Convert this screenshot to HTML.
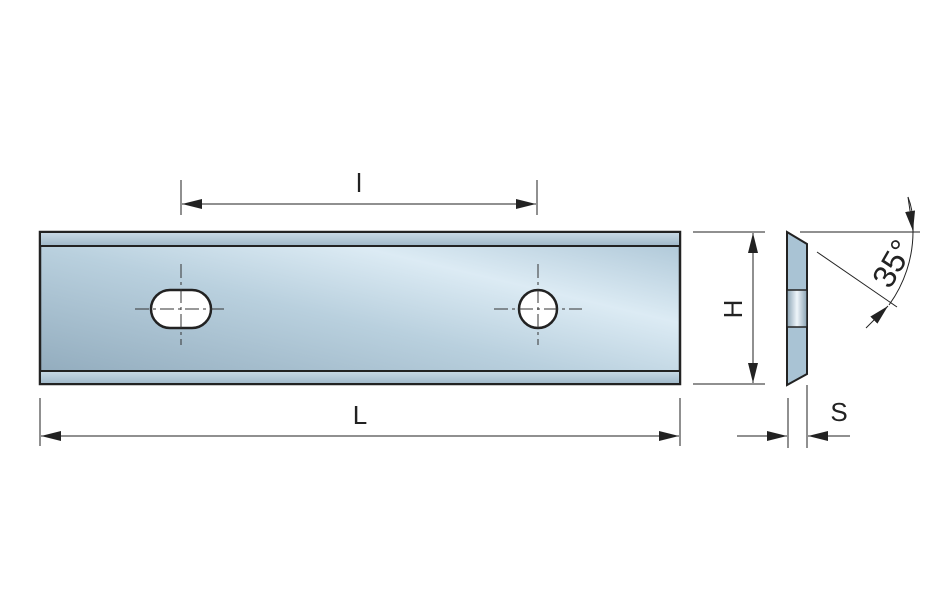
<!DOCTYPE html>
<html><head><style>body{margin:0;background:#fff}svg{display:block}</style></head><body>
<svg width="947" height="601" viewBox="0 0 947 601" xmlns="http://www.w3.org/2000/svg" font-family="Liberation Sans, sans-serif">
<defs>
<linearGradient id="g" x1="0" y1="1" x2="1" y2="0">
<stop offset="0" stop-color="#8fa9bb"/><stop offset="0.45" stop-color="#b9d0de"/><stop offset="0.7" stop-color="#dcebf4"/><stop offset="1" stop-color="#a9c3d4"/></linearGradient>
<linearGradient id="b" x1="0" y1="0" x2="0" y2="1"><stop offset="0" stop-color="#c9dae6"/><stop offset="1" stop-color="#9fb8c9"/></linearGradient>
<linearGradient id="m" x1="0" y1="0" x2="1" y2="0"><stop offset="0" stop-color="#8aa3b4"/><stop offset="0.5" stop-color="#eef5fa"/><stop offset="1" stop-color="#8aa3b4"/></linearGradient>
<marker id="A" viewBox="0 0 20 10" refX="20" refY="5" markerWidth="20" markerHeight="10" markerUnits="userSpaceOnUse" orient="auto-start-reverse"><path d="M0,0L20,5L0,10z" fill="#222"/></marker>
</defs>
<rect x="40" y="232" width="640" height="152" fill="url(#g)" stroke="#222" stroke-width="2.5"/>
<rect x="40" y="232" width="640" height="14" fill="url(#b)" stroke="#222" stroke-width="2"/>
<rect x="40" y="371" width="640" height="13" fill="url(#b)" stroke="#222" stroke-width="2"/>
<rect x="151" y="290" width="60" height="38" rx="19" fill="#fff" stroke="#222" stroke-width="2.5"/>
<circle cx="538" cy="309" r="19" fill="#fff" stroke="#222" stroke-width="2.5"/>
<g stroke="#333" stroke-width="1" stroke-dasharray="14,4,3,4">
<line x1="135" y1="309" x2="227" y2="309"/><line x1="181" y1="264" x2="181" y2="345"/>
<line x1="494" y1="309" x2="582" y2="309"/><line x1="538" y1="264" x2="538" y2="345"/></g>
<polygon points="787,232 807,244 807,374 787,385" fill="#a9c3d4" stroke="#222" stroke-width="2"/>
<rect x="787" y="290" width="20" height="37" fill="url(#m)" stroke="#222" stroke-width="1.5"/>
<g stroke="#222" stroke-width="1" fill="none">
<line x1="181" y1="180" x2="181" y2="215"/><line x1="537" y1="180" x2="537" y2="215"/>
<line x1="182" y1="204" x2="536" y2="204" marker-start="url(#A)" marker-end="url(#A)"/>
<line x1="40" y1="398" x2="40" y2="446"/><line x1="680" y1="398" x2="680" y2="446"/>
<line x1="41" y1="436" x2="679" y2="436" marker-start="url(#A)" marker-end="url(#A)"/>
<line x1="693" y1="232" x2="765" y2="232"/><line x1="693" y1="384" x2="765" y2="384"/>
<line x1="753" y1="233" x2="753" y2="383" marker-start="url(#A)" marker-end="url(#A)"/>
<line x1="788" y1="398" x2="788" y2="448"/><line x1="807" y1="385" x2="807" y2="448"/>
<line x1="737" y1="436" x2="787" y2="436" marker-end="url(#A)"/>
<line x1="850" y1="436" x2="808" y2="436" marker-end="url(#A)"/>
<line x1="800" y1="232" x2="920" y2="232"/>
<line x1="817" y1="252" x2="897" y2="307"/>
<path d="M908,197 Q914,212 913,232 A125,125 0 0 1 889,305"/>
<line x1="866" y1="328" x2="888" y2="306" marker-end="url(#A)"/>
<line x1="908" y1="197" x2="913" y2="231" marker-end="url(#A)"/>
</g>
<text x="359" y="192" font-size="26" text-anchor="middle" fill="#222">l</text>
<text x="360" y="424" font-size="26" text-anchor="middle" fill="#222">L</text>
<text x="839" y="421" font-size="26" text-anchor="middle" fill="#222">S</text>
<text transform="translate(742,309) rotate(-90)" font-size="26" text-anchor="middle" fill="#222">H</text>
<text transform="translate(890,290) rotate(-60)" font-size="32" fill="#222">35°</text>
</svg>
</body></html>
